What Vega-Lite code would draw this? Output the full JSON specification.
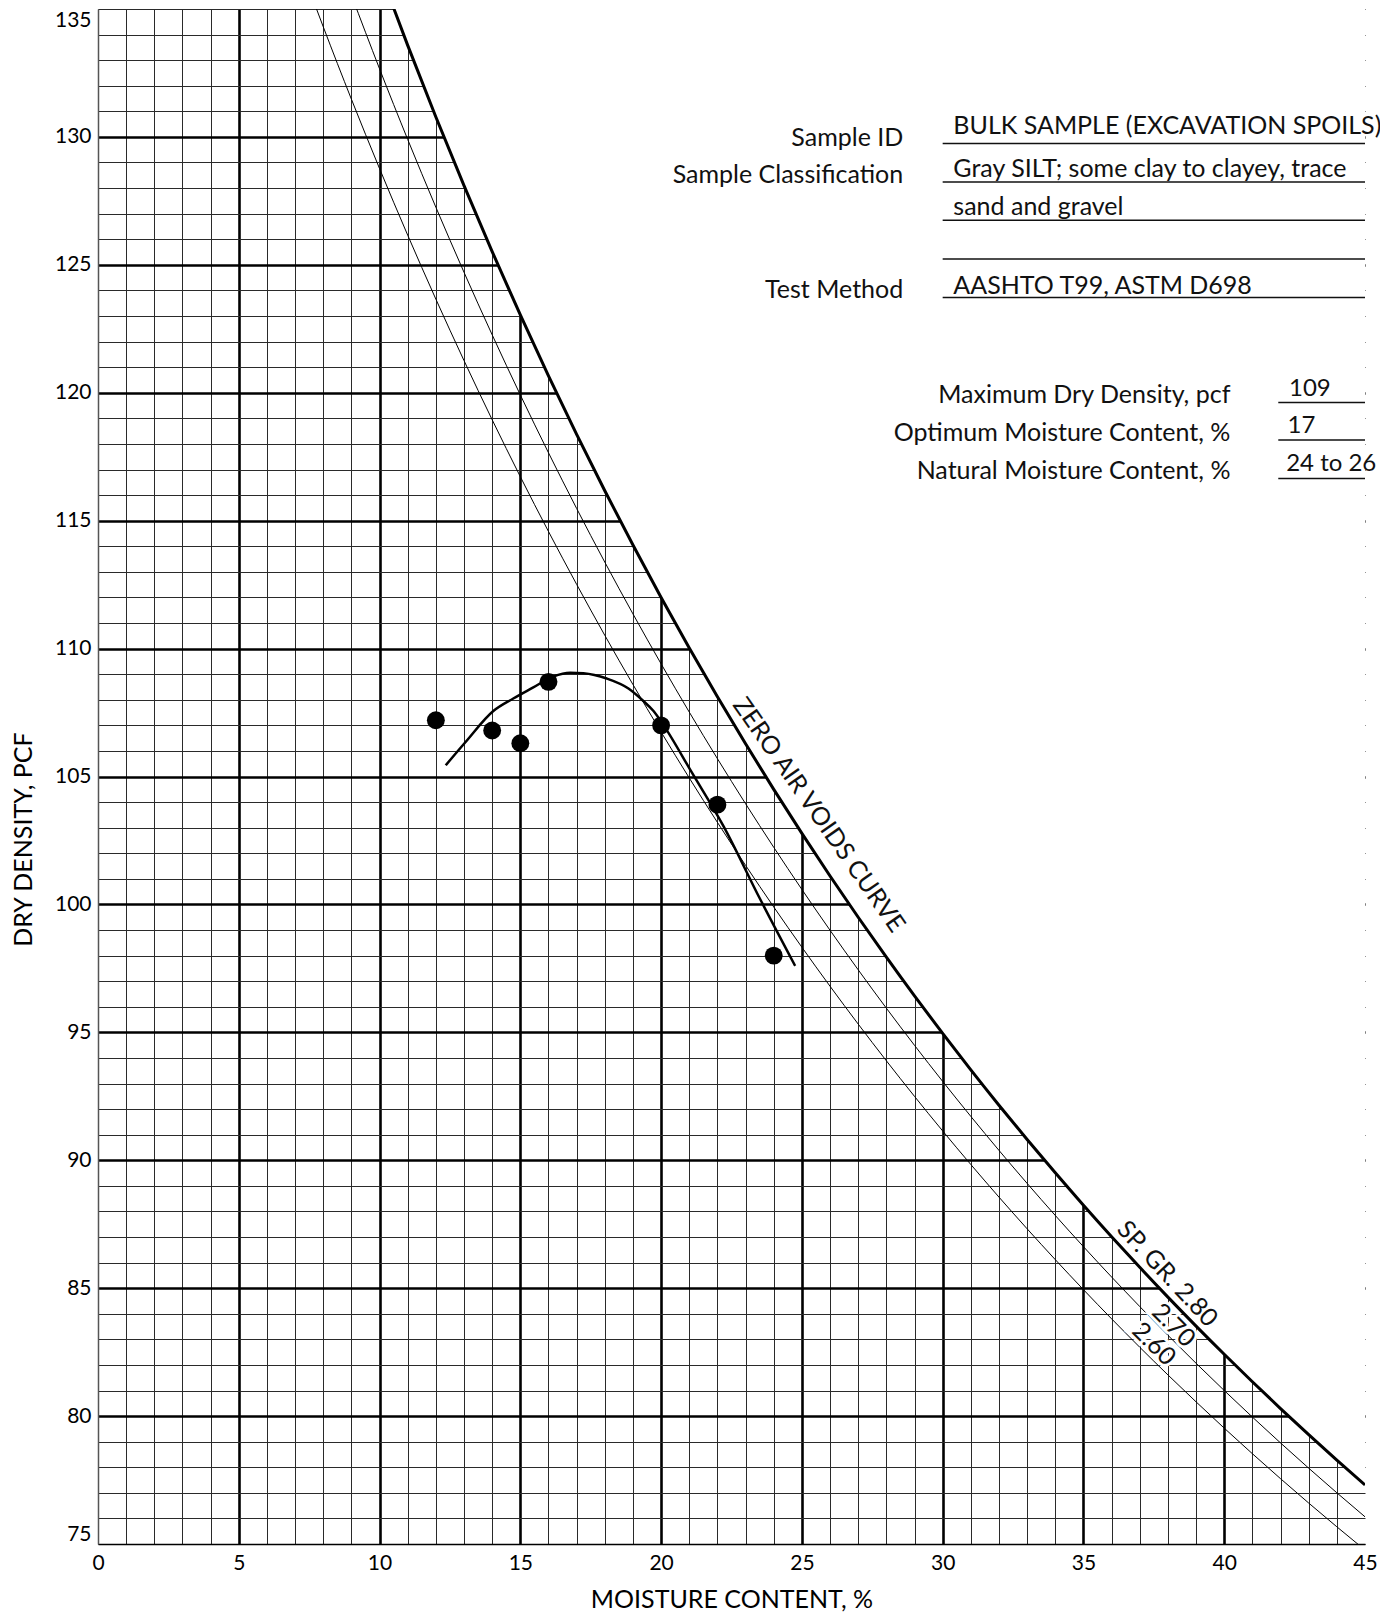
{
  "$schema": "https://vega.github.io/schema/vega-lite/v6.json",
  "width": 1267,
  "height": 1535,
  "autosize": {"type": "none"},
  "padding": {"left": 98, "top": 9, "right": 15, "bottom": 73},
  "background": "white",
  "config": {
    "view": {"stroke": null},
    "font": "Lato",
    "axis": {"labelFont": "Lato", "titleFont": "Lato"}
  },
  "datasets": {
    "zav": [
      {"gs": 2.8, "w": 10, "dd": 136.5}, {"gs": 2.8, "w": 11, "dd": 133.578}, {"gs": 2.8, "w": 12, "dd": 130.778},
      {"gs": 2.8, "w": 13, "dd": 128.094}, {"gs": 2.8, "w": 14, "dd": 125.517}, {"gs": 2.8, "w": 15, "dd": 123.042},
      {"gs": 2.8, "w": 16, "dd": 120.663}, {"gs": 2.8, "w": 17, "dd": 118.374}, {"gs": 2.8, "w": 18, "dd": 116.17},
      {"gs": 2.8, "w": 19, "dd": 114.047}, {"gs": 2.8, "w": 20, "dd": 112.0}, {"gs": 2.8, "w": 21, "dd": 110.025},
      {"gs": 2.8, "w": 22, "dd": 108.119}, {"gs": 2.8, "w": 23, "dd": 106.277}, {"gs": 2.8, "w": 24, "dd": 104.498},
      {"gs": 2.8, "w": 25, "dd": 102.776}, {"gs": 2.8, "w": 26, "dd": 101.111}, {"gs": 2.8, "w": 27, "dd": 99.499},
      {"gs": 2.8, "w": 28, "dd": 97.937}, {"gs": 2.8, "w": 29, "dd": 96.424}, {"gs": 2.8, "w": 30, "dd": 94.957},
      {"gs": 2.8, "w": 31, "dd": 93.533}, {"gs": 2.8, "w": 32, "dd": 92.152}, {"gs": 2.8, "w": 33, "dd": 90.811},
      {"gs": 2.8, "w": 34, "dd": 89.508}, {"gs": 2.8, "w": 35, "dd": 88.242}, {"gs": 2.8, "w": 36, "dd": 87.012},
      {"gs": 2.8, "w": 37, "dd": 85.815}, {"gs": 2.8, "w": 38, "dd": 84.651}, {"gs": 2.8, "w": 39, "dd": 83.518},
      {"gs": 2.8, "w": 40, "dd": 82.415}, {"gs": 2.8, "w": 41, "dd": 81.341}, {"gs": 2.8, "w": 42, "dd": 80.294},
      {"gs": 2.8, "w": 43, "dd": 79.274}, {"gs": 2.8, "w": 44, "dd": 78.28}, {"gs": 2.8, "w": 45, "dd": 77.31},
      {"gs": 2.7, "w": 9, "dd": 135.543}, {"gs": 2.7, "w": 10, "dd": 132.661}, {"gs": 2.7, "w": 11, "dd": 129.9},
      {"gs": 2.7, "w": 12, "dd": 127.251}, {"gs": 2.7, "w": 13, "dd": 124.708}, {"gs": 2.7, "w": 14, "dd": 122.264},
      {"gs": 2.7, "w": 15, "dd": 119.915}, {"gs": 2.7, "w": 16, "dd": 117.654}, {"gs": 2.7, "w": 17, "dd": 115.476},
      {"gs": 2.7, "w": 18, "dd": 113.378}, {"gs": 2.7, "w": 19, "dd": 111.355}, {"gs": 2.7, "w": 20, "dd": 109.403},
      {"gs": 2.7, "w": 21, "dd": 107.517}, {"gs": 2.7, "w": 22, "dd": 105.696}, {"gs": 2.7, "w": 23, "dd": 103.936},
      {"gs": 2.7, "w": 24, "dd": 102.233}, {"gs": 2.7, "w": 25, "dd": 100.585}, {"gs": 2.7, "w": 26, "dd": 98.99},
      {"gs": 2.7, "w": 27, "dd": 97.444}, {"gs": 2.7, "w": 28, "dd": 95.945}, {"gs": 2.7, "w": 29, "dd": 94.492},
      {"gs": 2.7, "w": 30, "dd": 93.083}, {"gs": 2.7, "w": 31, "dd": 91.715}, {"gs": 2.7, "w": 32, "dd": 90.386},
      {"gs": 2.7, "w": 33, "dd": 89.096}, {"gs": 2.7, "w": 34, "dd": 87.842}, {"gs": 2.7, "w": 35, "dd": 86.622},
      {"gs": 2.7, "w": 36, "dd": 85.436}, {"gs": 2.7, "w": 37, "dd": 84.282}, {"gs": 2.7, "w": 38, "dd": 83.159},
      {"gs": 2.7, "w": 39, "dd": 82.065}, {"gs": 2.7, "w": 40, "dd": 81.0}, {"gs": 2.7, "w": 41, "dd": 79.962},
      {"gs": 2.7, "w": 42, "dd": 78.95}, {"gs": 2.7, "w": 43, "dd": 77.964}, {"gs": 2.7, "w": 44, "dd": 77.002},
      {"gs": 2.7, "w": 45, "dd": 76.063},
      {"gs": 2.6, "w": 7, "dd": 137.259}, {"gs": 2.6, "w": 8, "dd": 134.305}, {"gs": 2.6, "w": 9, "dd": 131.475},
      {"gs": 2.6, "w": 10, "dd": 128.762}, {"gs": 2.6, "w": 11, "dd": 126.159}, {"gs": 2.6, "w": 12, "dd": 123.659},
      {"gs": 2.6, "w": 13, "dd": 121.256}, {"gs": 2.6, "w": 14, "dd": 118.944}, {"gs": 2.6, "w": 15, "dd": 116.719},
      {"gs": 2.6, "w": 16, "dd": 114.576}, {"gs": 2.6, "w": 17, "dd": 112.51}, {"gs": 2.6, "w": 18, "dd": 110.518},
      {"gs": 2.6, "w": 19, "dd": 108.594}, {"gs": 2.6, "w": 20, "dd": 106.737}, {"gs": 2.6, "w": 21, "dd": 104.942},
      {"gs": 2.6, "w": 22, "dd": 103.206}, {"gs": 2.6, "w": 23, "dd": 101.527}, {"gs": 2.6, "w": 24, "dd": 99.901},
      {"gs": 2.6, "w": 25, "dd": 98.327}, {"gs": 2.6, "w": 26, "dd": 96.802}, {"gs": 2.6, "w": 27, "dd": 95.323},
      {"gs": 2.6, "w": 28, "dd": 93.889}, {"gs": 2.6, "w": 29, "dd": 92.497}, {"gs": 2.6, "w": 30, "dd": 91.146},
      {"gs": 2.6, "w": 31, "dd": 89.834}, {"gs": 2.6, "w": 32, "dd": 88.559}, {"gs": 2.6, "w": 33, "dd": 87.32},
      {"gs": 2.6, "w": 34, "dd": 86.115}, {"gs": 2.6, "w": 35, "dd": 84.942}, {"gs": 2.6, "w": 36, "dd": 83.802},
      {"gs": 2.6, "w": 37, "dd": 82.691}, {"gs": 2.6, "w": 38, "dd": 81.61}, {"gs": 2.6, "w": 39, "dd": 80.556},
      {"gs": 2.6, "w": 40, "dd": 79.529}, {"gs": 2.6, "w": 41, "dd": 78.529}, {"gs": 2.6, "w": 42, "dd": 77.553},
      {"gs": 2.6, "w": 43, "dd": 76.601}, {"gs": 2.6, "w": 44, "dd": 75.672}, {"gs": 2.6, "w": 45, "dd": 74.765}
    ],
    "fit": [
      {"w": 12.35, "dd": 105.44}, {"w": 13.04, "dd": 106.33}, {"w": 14.04, "dd": 107.56},
      {"w": 14.75, "dd": 108.05}, {"w": 15.46, "dd": 108.48}, {"w": 16.17, "dd": 108.91},
      {"w": 16.77, "dd": 109.06}, {"w": 17.24, "dd": 109.04}, {"w": 18.07, "dd": 108.83},
      {"w": 18.84, "dd": 108.44}, {"w": 19.37, "dd": 107.95}, {"w": 19.73, "dd": 107.56},
      {"w": 20.09, "dd": 107.0}, {"w": 21.09, "dd": 105.16}, {"w": 22.21, "dd": 103.07},
      {"w": 23.52, "dd": 100.2}, {"w": 24.76, "dd": 97.6}
    ],
    "tests": [
      {"w": 12, "dd": 107.2}, {"w": 14, "dd": 106.8}, {"w": 15, "dd": 106.3},
      {"w": 16, "dd": 108.7}, {"w": 20, "dd": 107.0}, {"w": 22, "dd": 103.9}, {"w": 24, "dd": 98.0}
    ],
    "labelsRight": [
      {"w": 28.6, "dd": 129.63, "text": "Sample ID"},
      {"w": 28.6, "dd": 128.2, "text": "Sample Classification"},
      {"w": 28.6, "dd": 123.7, "text": "Test Method"},
      {"w": 40.22, "dd": 119.61, "text": "Maximum Dry Density, pcf"},
      {"w": 40.22, "dd": 118.11, "text": "Optimum Moisture Content, %"},
      {"w": 40.22, "dd": 116.64, "text": "Natural Moisture Content, %"}
    ],
    "labelsLeft": [
      {"w": 30.38, "dd": 130.1, "text": "BULK SAMPLE (EXCAVATION SPOILS)"},
      {"w": 30.38, "dd": 128.45, "text": "Gray SILT; some clay to clayey, trace"},
      {"w": 30.38, "dd": 126.96, "text": "sand and gravel"},
      {"w": 30.38, "dd": 123.86, "text": "AASHTO T99, ASTM D698"}
    ],
    "valuesRight": [
      {"w": 42.3, "dd": 119.88, "text": "109"},
      {"w": 42.25, "dd": 118.42, "text": "17"},
      {"w": 42.2, "dd": 116.95, "text": "24 to 26"}
    ],
    "underlines": [
      {"w": 30.0, "w2": 45, "dd": 129.74},
      {"w": 30.0, "w2": 45, "dd": 128.24},
      {"w": 30.0, "w2": 45, "dd": 126.74},
      {"w": 30.0, "w2": 45, "dd": 125.23},
      {"w": 30.0, "w2": 45, "dd": 123.72},
      {"w": 41.92, "w2": 45, "dd": 119.62},
      {"w": 41.92, "w2": 45, "dd": 118.15},
      {"w": 41.92, "w2": 45, "dd": 116.65}
    ]
  },
  "encoding": {
    "x": {
      "field": "w", "type": "quantitative",
      "scale": {"domain": [0, 45], "nice": false, "zero": false},
      "axis": {
        "title": "MOISTURE CONTENT, %",
        "titleFontSize": 25, "titleFontWeight": "normal", "titleColor": "black",
        "titleBaseline": "alphabetic", "titleY": 63,
        "tickCount": 45,
        "labelExpr": "datum.value % 5 === 0 ? datum.label : ''",
        "labelFontSize": 21, "labelColor": "black", "labelPadding": 8,
        "labelFlush": false, "labelOverlap": false,
        "ticks": false,
        "domain": true, "domainColor": "black", "domainWidth": 1.5,
        "grid": true,
        "gridColor": {"condition": {"test": "datum.value % 5 === 0 && datum.value > 0 && datum.value < 45", "value": "black"}, "value": "#2a2a2a"},
        "gridWidth": {"condition": {"test": "datum.value % 5 === 0 && datum.value > 0 && datum.value < 45", "value": 2.6}, "value": 1},
        "gridOpacity": {"condition": {"test": "datum.value === 45", "value": 0}, "value": 1}
      }
    },
    "y": {
      "field": "dd", "type": "quantitative",
      "scale": {"domain": [75, 135], "nice": false, "zero": false},
      "axis": {
        "title": "DRY DENSITY, PCF",
        "titleFontSize": 25, "titleFontWeight": "normal", "titleColor": "black",
        "titleAngle": 270, "titleAlign": "center", "titleBaseline": "alphabetic",
        "titleX": -67, "titleY": 830,
        "tickCount": 60,
        "labelExpr": "datum.value % 5 === 0 ? datum.label : ''",
        "labelFontSize": 21, "labelColor": "black", "labelPadding": 7,
        "labelFlush": true, "labelOverlap": false,
        "ticks": false,
        "domain": true, "domainColor": "#555555", "domainWidth": 1.5,
        "grid": true,
        "gridColor": {"condition": {"test": "datum.value % 5 === 0 && datum.value > 75 && datum.value < 135", "value": "black"}, "value": "#2a2a2a"},
        "gridWidth": {"condition": {"test": "datum.value % 5 === 0 && datum.value > 75 && datum.value < 135", "value": 2.6}, "value": 1}
      }
    }
  },
  "layer": [
    {
      "data": {"name": "zav"},
      "transform": [{"filter": "datum.gs === 2.8"}],
      "mark": {"type": "area", "color": "white", "interpolate": "monotone", "opacity": 1},
      "encoding": {
        "y2": {"datum": 135.3}
      }
    },
    {
      "data": {"name": "zav"},
      "transform": [{"filter": "datum.gs !== 2.8"}],
      "mark": {"type": "line", "color": "black", "strokeWidth": 1, "interpolate": "monotone", "clip": true},
      "encoding": {
        "detail": {"field": "gs", "type": "nominal"}
      }
    },
    {
      "data": {"name": "zav"},
      "transform": [{"filter": "datum.gs === 2.8"}],
      "mark": {"type": "line", "color": "black", "strokeWidth": 3, "interpolate": "monotone", "clip": true},
      "encoding": {}
    },
    {
      "data": {"name": "fit"},
      "mark": {"type": "line", "color": "black", "strokeWidth": 2.5, "interpolate": "monotone"},
      "encoding": {}
    },
    {
      "data": {"name": "tests"},
      "mark": {"type": "circle", "color": "black", "opacity": 1, "size": 320},
      "encoding": {}
    },
    {
      "data": {"name": "underlines"},
      "mark": {"type": "rule", "color": "#111111", "strokeWidth": 1.5},
      "encoding": {
        "x2": {"field": "w2"}
      }
    },
    {
      "data": {"name": "labelsRight"},
      "mark": {"type": "text", "align": "right", "baseline": "alphabetic", "fontSize": 25, "font": "Lato", "color": "#111111"},
      "encoding": {
        "text": {"field": "text"}
      }
    },
    {
      "data": {"name": "labelsLeft"},
      "mark": {"type": "text", "align": "left", "baseline": "alphabetic", "fontSize": 25, "font": "Lato", "color": "#111111"},
      "encoding": {
        "text": {"field": "text"}
      }
    },
    {
      "data": {"name": "valuesRight"},
      "mark": {"type": "text", "align": "left", "baseline": "alphabetic", "fontSize": 24, "font": "Lato", "color": "#111111", "letterSpacing": -0.5},
      "encoding": {
        "text": {"field": "text"}
      }
    },
    {
      "data": {"values": [{"w": 25.6, "dd": 103.5, "text": "ZERO AIR VOIDS CURVE"}]},
      "mark": {"type": "text", "align": "center", "baseline": "middle", "angle": 55, "fontSize": 25, "font": "Lato", "color": "#111111"},
      "encoding": {
        "text": {"field": "text"}
      }
    },
    {
      "data": {"values": [{"w": 37.98, "dd": 85.56, "text": "SP. GR. 2.80"}]},
      "mark": {"type": "text", "align": "center", "baseline": "middle", "angle": 47, "fontSize": 25, "font": "Lato", "color": "#111111"},
      "encoding": {
        "text": {"field": "text"}
      }
    },
    {
      "data": {"values": [{"w": 38.2, "dd": 83.55, "text": "2.70"}, {"w": 37.5, "dd": 82.82, "text": "2.60"}]},
      "mark": {"type": "text", "align": "center", "baseline": "middle", "angle": 45, "fontSize": 25, "font": "Lato", "color": "white", "stroke": "white", "strokeWidth": 6},
      "encoding": {
        "text": {"field": "text"}
      }
    },
    {
      "data": {"values": [{"w": 38.2, "dd": 83.55, "text": "2.70"}, {"w": 37.5, "dd": 82.82, "text": "2.60"}]},
      "mark": {"type": "text", "align": "center", "baseline": "middle", "angle": 45, "fontSize": 25, "font": "Lato", "color": "#111111"},
      "encoding": {
        "text": {"field": "text"}
      }
    }
  ]
}
